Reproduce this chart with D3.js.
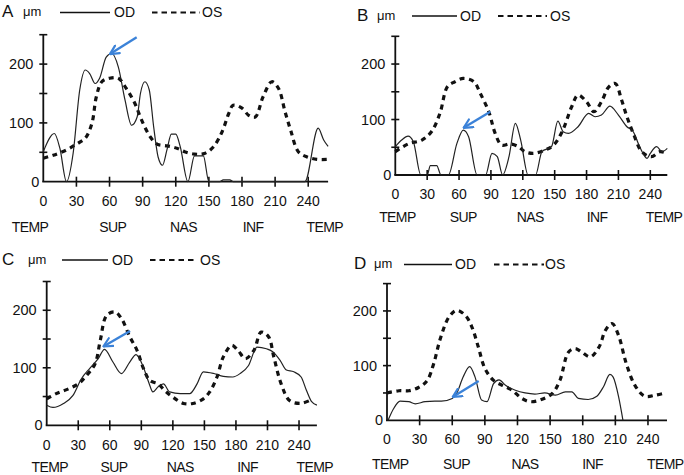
<!DOCTYPE html>
<html>
<head>
<meta charset="utf-8">
<script src="https://cdn.jsdelivr.net/npm/d3@7"></script>
<style>
body{margin:0;background:#fff;}
svg{display:block;font-family:"Liberation Sans",Arial,sans-serif;}
</style>
</head>
<body>
<svg id="chart" width="684" height="475"></svg>
<script>
// angle (deg) / thickness (um) pairs
const xTicks = [0,30,60,90,120,150,180,210,240];
const yTicks = [0,50,100,150,200,250];
const yLabels = [0,100,200];
const regions = ['TEMP','SUP','NAS','INF','TEMP'];

const odA = [[0,51],[10,82],[15,57],[21,0],[27,48],[33,156],[38,190],[42,184],[47,167],[51,176],[57,212],[62,218],[68,195],[74,139],[80,96],[85,110],[88,150],[92,170],[96,156],[100,93],[104,42],[108,28],[112,54],[116,81],[120,81],[124,60],[131,0],[137,44],[145,44],[150,0],[160,0],[163,3],[169,3],[172,0],[237,0],[249,91],[254,71],[258,60]];
const osA = [[0,40],[9,45],[21,54],[30,64],[38,74],[44,99],[48,144],[53,170],[60,176],[68,176],[75,159],[83,133],[89,105],[97,76],[103,64],[112,61],[121,57],[128,51],[137,47],[146,48],[154,59],[162,85],[168,116],[172,130],[180,125],[186,113],[192,110],[199,144],[207,170],[213,159],[219,119],[224,88],[231,51],[239,42],[248,38],[258,38]];

const odB = [[0,51],[6,63],[12,70],[17,60],[24,0],[30,0],[33,17],[39,17],[43,0],[50,0],[58,57],[64,81],[69,69],[77,0],[85,0],[91,39],[96,33],[101,0],[107,33],[113,93],[118,63],[125,0],[132,0],[138,42],[147,51],[153,97],[158,78],[163,75],[172,87],[182,111],[188,105],[194,108],[202,124],[210,108],[218,87],[224,78],[230,51],[237,30],[240,39],[246,51],[251,42],[256,48]];
const osB = [[0,42],[12,56],[25,63],[34,78],[42,111],[49,159],[56,168],[64,174],[74,168],[80,147],[88,114],[94,75],[100,54],[108,56],[116,51],[122,42],[130,39],[141,45],[149,54],[157,78],[166,123],[172,144],[180,132],[187,114],[194,132],[201,159],[207,165],[213,135],[218,105],[224,75],[232,42],[241,33],[249,42],[256,39]];

const odC = [[0,35],[6,31],[16,38],[25,52],[33,81],[41,99],[49,116],[55,132],[63,110],[71,90],[79,110],[85,123],[92,101],[97,75],[101,58],[106,67],[111,72],[117,58],[127,55],[136,55],[143,72],[149,93],[159,90],[168,85],[177,84],[184,90],[192,104],[200,136],[209,133],[215,128],[222,113],[228,96],[235,93],[242,84],[247,61],[252,41],[257,35]];
const osC = [[0,46],[9,55],[19,62],[30,72],[38,87],[46,107],[51,148],[57,191],[65,197],[71,186],[79,154],[86,130],[92,99],[98,78],[106,72],[112,61],[120,49],[130,38],[139,38],[149,46],[155,58],[162,84],[168,119],[176,139],[182,130],[189,116],[197,130],[204,162],[211,154],[216,119],[223,72],[231,43],[241,38],[250,43]];

const odD = [[1,0],[6,21],[12,35],[20,34],[26,30],[35,34],[44,35],[50,35],[60,40],[64,49],[70,79],[76,98],[81,79],[87,37],[92,34],[98,67],[103,74],[109,64],[118,55],[127,50],[136,48],[145,50],[155,46],[164,52],[170,52],[176,40],[185,38],[193,44],[199,61],[205,84],[208,79],[213,43],[217,0]];
const osD = [[0,50],[11,54],[20,54],[29,60],[37,73],[43,104],[49,149],[57,189],[64,201],[72,192],[78,171],[84,134],[90,95],[98,73],[106,64],[115,55],[124,40],[132,34],[142,38],[152,49],[159,73],[167,125],[173,131],[179,125],[187,116],[195,134],[201,165],[207,177],[213,155],[220,104],[228,64],[237,44],[247,46],[256,50]];

// blue arrows: [tailX, tailY, tipX, tipY] in data units
const arrowA = [84.6,245.6,60.4,217];
const arrowB = [89.4,114,64.3,85];
const arrowC = [79.3,164,53.9,137];
const arrowD = [84.3,71.8,60.4,42.6];

const panels = [
	{tag:'A',od:odA,os:osA,arrow:arrowA,x0:43.3,x1:328.1,xMax:258,y0:181.7,y1:34.7,tickY:206,catY:231.5,cat:[-12,63,127,190,255],
		leg:{letter:2,base:17,mu:23,s1:60,s2:110,od:114,d1:152,d2:200,os:202}},
	{tag:'B',od:odB,os:osB,arrow:arrowB,x0:395.3,x1:667.3,xMax:256,y0:175,y1:36.3,tickY:198.5,catY:221.5,cat:[2,64,127,190,253],
		leg:{letter:357,base:20.5,mu:377,s1:412,s2:457,od:460,d1:498,d2:547,os:550}},
	{tag:'C',od:odC,os:osC,arrow:arrowC,x0:46.7,x1:316.9,xMax:257,y0:425.3,y1:281.5,tickY:449.5,catY:471.5,cat:[3,64,127,191,255],
		leg:{letter:2,base:264.5,mu:28,s1:62,s2:108,od:112,d1:150,d2:197,os:200}},
	{tag:'D',od:odD,os:osD,arrow:arrowD,x0:387,x1:667,xMax:257.5,y0:420.3,y1:283.6,tickY:443.5,catY:468.5,cat:[3,64,127,189,256],
		leg:{letter:354,base:269,mu:374,s1:404,s2:452,od:455,d1:494,d2:544,os:545}}
];

const svg = d3.select('#chart');
const blue = '#3b82d8';

svg.append('defs').append('marker')
	.attr('id','head')
	.attr('viewBox','0 0 10 10')
	.attr('refX',9).attr('refY',5)
	.attr('markerWidth',11).attr('markerHeight',11)
	.attr('markerUnits','userSpaceOnUse')
	.attr('orient','auto')
	.append('path')
		.attr('d','M1,1 L9,5 L1,9')
		.attr('fill','none')
		.attr('stroke',blue)
		.attr('stroke-width',2)
		.attr('stroke-linecap','round')
		.attr('stroke-linejoin','round');

panels.forEach(p=>{
	const x = d3.scaleLinear().domain([0,p.xMax]).range([p.x0,p.x1]);
	const y = d3.scaleLinear().domain([0,250]).range([p.y0,p.y1]);
	const g = svg.append('g').classed('panel',true);

	// axes
	g.append('line')
		.attr('x1',x(0)-1).attr('x2',x(p.xMax))
		.attr('y1',y(0)).attr('y2',y(0))
		.attr('stroke','#111').attr('stroke-width',1.8);
	g.append('line')
		.attr('x1',x(0)).attr('x2',x(0))
		.attr('y1',y(0)).attr('y2',y(250))
		.attr('stroke','#111').attr('stroke-width',1.8);

	g.selectAll('line.xt')
		.data(xTicks.filter(d=>d>0))
		.join('line')
			.classed('xt',true)
			.attr('x1',d=>x(d)).attr('x2',d=>x(d))
			.attr('y1',y(0)-5).attr('y2',y(0)+5)
			.attr('stroke','#111').attr('stroke-width',1.6);
	g.selectAll('line.yt')
		.data(yTicks.filter(d=>d>0))
		.join('line')
			.classed('yt',true)
			.attr('x1',x(0)-4).attr('x2',x(0)+4)
			.attr('y1',d=>y(d)).attr('y2',d=>y(d))
			.attr('stroke','#111').attr('stroke-width',1.6);

	g.selectAll('text.xl')
		.data(xTicks)
		.join('text')
			.classed('xl',true)
			.attr('x',d=>x(d)).attr('y',p.tickY)
			.attr('text-anchor','middle')
			.attr('font-size',14).attr('fill','#111')
			.text(d=>d);
	g.selectAll('text.yl')
		.data(yLabels)
		.join('text')
			.classed('yl',true)
			.attr('x',d=>x(0)-(d==0?4:10)).attr('y',d=>y(d)+5)
			.attr('text-anchor','end')
			.attr('font-size',14.5).attr('fill','#111')
			.text(d=>d);
	g.selectAll('text.cat')
		.data(regions)
		.join('text')
			.classed('cat',true)
			.attr('x',(d,i)=>x(p.cat[i])).attr('y',p.catY)
			.attr('text-anchor','middle')
			.attr('font-size',14).attr('fill','#111')
			.attr('letter-spacing',-0.6)
			.text(d=>d);

	// curves
	g.append('path')
		.datum(p.os)
		.attr('d',d3.line().x(d=>x(d[0])).y(d=>y(d[1])).curve(d3.curveCatmullRom.alpha(0.5)))
		.attr('fill','none')
		.attr('stroke','#111')
		.attr('stroke-width',3.2)
		.attr('stroke-dasharray','5,4.5');
	g.append('path')
		.datum(p.od)
		.attr('d',d3.line().x(d=>x(d[0])).y(d=>y(d[1])).curve(d3.curveMonotoneX))
		.attr('fill','none')
		.attr('stroke','#222')
		.attr('stroke-width',1.2);

	// arrow
	g.append('line')
		.attr('x1',x(p.arrow[0])).attr('y1',y(p.arrow[1]))
		.attr('x2',x(p.arrow[2])).attr('y2',y(p.arrow[3]))
		.attr('stroke',blue).attr('stroke-width',2.4)
		.attr('marker-end','url(#head)');

	// legend
	const L = p.leg, ly = L.base-4.5;
	g.append('text').attr('x',L.letter).attr('y',L.base)
		.attr('font-size',17).attr('fill','#111').text(p.tag);
	g.append('text').attr('x',L.mu).attr('y',L.base-1)
		.attr('font-size',13).attr('fill','#111').text('μm');
	g.append('line').attr('x1',L.s1).attr('x2',L.s2).attr('y1',ly).attr('y2',ly)
		.attr('stroke','#111').attr('stroke-width',1.4);
	g.append('text').attr('x',L.od).attr('y',L.base)
		.attr('font-size',14).attr('fill','#111').text('OD');
	g.append('line').attr('x1',L.d1).attr('x2',L.d2).attr('y1',ly).attr('y2',ly)
		.attr('stroke','#111').attr('stroke-width',2.2)
		.attr('stroke-dasharray','5.5,4');
	g.append('text').attr('x',L.os).attr('y',L.base)
		.attr('font-size',14).attr('fill','#111').text('OS');
});
</script>
</body>
</html>
